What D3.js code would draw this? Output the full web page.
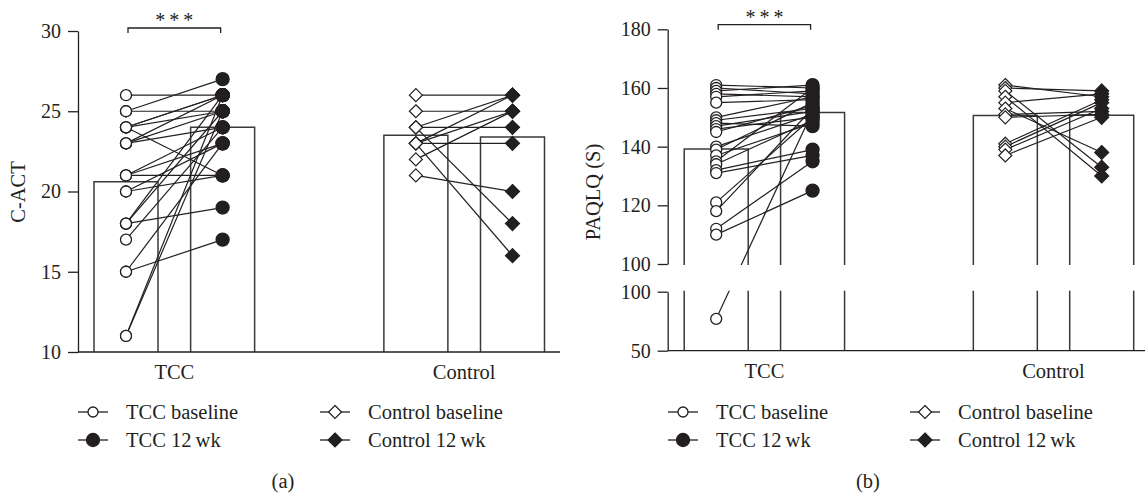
<!DOCTYPE html>
<html lang="en">
<head>
<meta charset="UTF-8">
<title>C-ACT and PAQLQ(S)</title>
<script src="https://d3js.org/d3.v7.min.js"></script>
<style>
    body { margin: 0; background: #fff; }
    svg { display: block; font-family: "Liberation Serif", "DejaVu Serif", serif; }
    .axis path, .axis line { stroke: #231f20; stroke-width: 1.3; }
    .axis text { font-size: 20px; fill: #231f20; font-family: "Liberation Serif", serif; }
</style>
</head>
<body>
<svg width="1145" height="495"></svg>
<script>
// ---- data ----
const groups = ["TCC", "Control"];
const legendLabels = ["TCC baseline", "TCC 12\u2009wk", "Control baseline", "Control 12\u2009wk"];

// panel (a) C-ACT, [baseline, 12 wk] per child
const actTCC = [[26,26],[25,27],[25,25],[24,26],[24,26],[24,25],[24,21],[23,26],[23,25],[23,24],
                [21,24],[21,23],[21,21],[20,21],[20,23],[18,19],[18,26],[18,25],[17,24],[15,17],
                [15,23],[11,26],[11,25]];
const actControl = [[26,26],[25,25],[24,24],[24,26],[23,26],[23,25],[22,25],[23,23],[21,20],[24,18],[23,16]];
const actMeans = [20.6, 24.0, 23.5, 23.4];   // TCC base, TCC 12wk, Control base, Control 12wk
const actTicks = [10, 15, 20, 25, 30];

// panel (b) PAQLQ(S)
const paqTCC = [[161,160],[160,158],[159,161],[158,157],[157,159],[155,156],[150,157],[149,153],
                [148,147],[147,152],[146,150],[145,154],[140,151],[139,155],[137,148],[135,160],
                [134,149],[132,139],[131,137],[121,150],[118,153],[112,135],[110,125],[77,152]];
const paqControl = [[161,157],[160,159],[159,133],[157,130],[155,158],[153,138],[151,152],
                    [150,151],[141,156],[140,155],[139,153],[137,150]];
const paqMeans = [139.2, 151.6, 150.6, 150.7];
const paqTicksUpper = [100, 120, 140, 160, 180];
const paqTicksLower = [50, 100];

const svg = d3.select("svg");
const ink = "#231f20";
const barW = 64;
const fs = 20.5;

function diamond(r) { return `M0,${-r}L${r},0L0,${r}L${-r},0Z`; }

function drawMarkers(g, x, y, slot, vals, shape, filled) {
    const sel = g.selectAll(null).data(vals).enter();
    if (shape === "circle") {
        sel.append("circle")
            .attr("cx", x(slot)).attr("cy", d => y(d))
            .attr("r", filled ? 6.5 : 5.5)
            .attr("fill", filled ? ink : "#fff")
            .attr("stroke", ink).attr("stroke-width", 1.3);
    } else {
        sel.append("path")
            .attr("d", diamond(filled ? 7 : 6.5))
            .attr("transform", d => `translate(${x(slot)},${y(d)})`)
            .attr("fill", filled ? ink : "#fff")
            .attr("stroke", ink).attr("stroke-width", 1.2);
    }
}

function drawPanel(p) {
    const g = svg.append("g");
    const x = p.x, y = p.y;

    // bars (group means)
    g.selectAll(".bar").data(p.means).enter().append("path")
        .attr("fill", "none").attr("stroke", "#3a3a3a").attr("stroke-width", 1.5)
        .attr("d", (m, i) => {
            const cx = x([0, 1, 3, 4][i]);
            return `M${cx - barW / 2},${p.yBase}V${y(m)}H${cx + barW / 2}V${p.yBase}`;
        });

    // paired lines
    [[p.tcc, 0], [p.control, 3]].forEach(([pairs, s]) => {
        g.selectAll(null).data(pairs).enter().append("line")
            .attr("x1", x(s)).attr("y1", d => y(d[0]))
            .attr("x2", x(s + 1)).attr("y2", d => y(d[1]))
            .attr("stroke", ink).attr("stroke-width", 1.2);
    });

    drawMarkers(g, x, y, 0, p.tcc.map(d => d[0]), "circle", false);
    drawMarkers(g, x, y, 1, p.tcc.map(d => d[1]), "circle", true);
    drawMarkers(g, x, y, 3, p.control.map(d => d[0]), "diamond", false);
    drawMarkers(g, x, y, 4, p.control.map(d => d[1]), "diamond", true);

    // x axis line
    g.append("line").attr("x1", p.axisX).attr("x2", p.xEnd)
        .attr("y1", p.yBase).attr("y2", p.yBase)
        .attr("stroke", ink).attr("stroke-width", 1.3);

    // category labels
    g.selectAll(".cat").data(groups).enter().append("text")
        .attr("x", (d, i) => (x(i * 3) + x(i * 3 + 1)) / 2)
        .attr("y", p.yBase + 27)
        .attr("text-anchor", "middle").attr("font-size", fs).attr("fill", ink)
        .text(d => d);

    // significance bracket
    const by = p.bracketY;
    g.append("path")
        .attr("d", `M${x(0) + 2},${by + 5}V${by}H${x(1) - 2}V${by + 5}`)
        .attr("fill", "none").attr("stroke", ink).attr("stroke-width", 1.3);
    g.append("text").attr("x", (x(0) + x(1)) / 2 + 2).attr("y", by - 1)
        .attr("text-anchor", "middle").attr("font-size", 20).attr("letter-spacing", 4)
        .attr("fill", ink).text("***");

    // y label
    g.append("text")
        .attr("transform", `translate(${p.labelX},${p.labelY}) rotate(-90)`)
        .attr("text-anchor", "middle").attr("font-size", fs).attr("fill", ink)
        .text(p.yLabel);

    // legend
    const lg = g.append("g");
    legendLabels.forEach((lab, i) => {
        const col = Math.floor(i / 2), row = i % 2;
        const lx = p.legendX[col], ly = 412 + row * 28;
        lg.append("line").attr("x1", lx).attr("x2", lx + 30).attr("y1", ly).attr("y2", ly)
            .attr("stroke", ink).attr("stroke-width", 1.3);
        const filled = row === 1;
        if (col === 0) {
            lg.append("circle").attr("cx", lx + 15).attr("cy", ly).attr("r", filled ? 6.5 : 5)
                .attr("fill", filled ? ink : "#fff").attr("stroke", ink).attr("stroke-width", 1.3);
        } else {
            lg.append("path").attr("d", diamond(filled ? 7 : 6.5))
                .attr("transform", `translate(${lx + 15},${ly})`)
                .attr("fill", filled ? ink : "#fff").attr("stroke", ink).attr("stroke-width", 1.2);
        }
        lg.append("text").attr("x", lx + 48).attr("y", ly + 7)
            .attr("font-size", fs).attr("fill", ink).text(lab);
    });

    g.append("text").attr("x", p.captionX).attr("y", 488)
        .attr("text-anchor", "middle").attr("font-size", fs).attr("fill", ink)
        .text(p.caption);
    return g;
}

// ---- panel (a) ----
const xA = d3.scaleLinear().domain([0, 4]).range([126, 512.5]);
const yA = d3.scaleLinear().domain([10, 30]).range([352, 31]);
drawPanel({
    x: xA, y: yA, yBase: yA(10), axisX: 78, xEnd: 560,
    tcc: actTCC, control: actControl, means: actMeans,
    bracketY: 28, yLabel: "C-ACT", labelX: 25, labelY: 192,
    legendX: [78, 320], caption: "(a)", captionX: 283
});
svg.append("g").attr("class", "axis").attr("transform", "translate(78,0)")
    .call(d3.axisLeft(yA).tickValues(actTicks).tickSize(10).tickSizeOuter(0).tickPadding(7));

// ---- panel (b), broken y axis ----
const xB = d3.scaleLinear().domain([0, 4]).range([716.2, 1101.7]);
const yUpper = d3.scaleLinear().domain([100, 180]).range([264, 29.3]);
const yLower = d3.scaleLinear().domain([50, 100]).range([350.7, 291.7]);
const yB = v => v >= 100 ? yUpper(v) : yLower(v);
drawPanel({
    x: xB, y: yB, yBase: yLower(50), axisX: 667.7, xEnd: 1145,
    tcc: paqTCC, control: paqControl, means: paqMeans,
    bracketY: 24.7, yLabel: "PAQLQ (S)", labelX: 600, labelY: 192,
    legendX: [668, 910], caption: "(b)", captionX: 868
});
// gap of the axis break
svg.append("rect").attr("x", 668.5).attr("y", yUpper(100) + 1)
    .attr("width", 1145 - 668.5).attr("height", yLower(100) - yUpper(100) - 2)
    .attr("fill", "#fff");
svg.append("g").attr("class", "axis").attr("transform", "translate(667.7,0)")
    .call(d3.axisLeft(yUpper).tickValues(paqTicksUpper).tickSize(10).tickSizeOuter(0).tickPadding(7));
svg.append("g").attr("class", "axis").attr("transform", "translate(667.7,0)")
    .call(d3.axisLeft(yLower).tickValues(paqTicksLower).tickSize(10).tickSizeOuter(0).tickPadding(7));
</script>
</body>
</html>
